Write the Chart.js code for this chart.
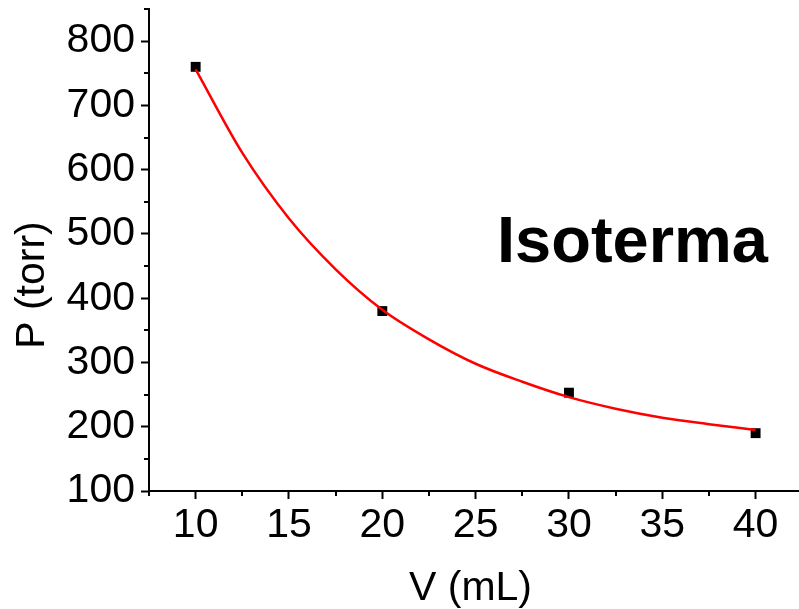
<!DOCTYPE html>
<html lang="en">
  <head>
    <meta charset="UTF-8" />
    <script src="https://cdn.jsdelivr.net/npm/chart.js@4"></script>
    <title>Isoterma</title>
    <style>
      body { margin: 0; background: #fff; }
    </style>
  </head>
  <body>
    <canvas id="myChart" width="799" height="609"></canvas>
    <script>
      // measured points
      const volumes = [10, 20, 30, 40];
      const pressures = [760, 380, 253, 190];

      // fitted curve, every 2.5 mL
      const fitVolumes = [10, 12.5, 15, 17.5, 20, 22.5, 25, 27.5, 30, 32.5, 35, 37.5, 40];
      const fitPressures = [756, 626, 524, 445, 382, 336, 298, 270, 246, 228, 214, 204, 195];

      const xTicks = [10, 15, 20, 25, 30, 35, 40];
      const xMinorTicks = [7.5, 12.5, 17.5, 22.5, 27.5, 32.5, 37.5];
      const yTicks = [100, 200, 300, 400, 500, 600, 700, 800];
      const yMinorTicks = [150, 250, 350, 450, 550, 650, 750, 850];

      const fontFamily = "'Liberation Sans', Arial, sans-serif";
      const font = { family: fontFamily, size: 41, lineHeight: 1 };

      const extras = {
        id: "extras",
        afterDraw(chart) {
          const ctx = chart.ctx;
          const xs = chart.scales.x;
          const ys = chart.scales.y;
          const area = chart.chartArea;
          ctx.save();
          ctx.strokeStyle = "#000";
          ctx.lineWidth = 2;
          ctx.beginPath();
          xMinorTicks.forEach((v) => {
            const px = Math.round(xs.getPixelForValue(v));
            if (px < area.left - 1 || px > area.right + 1) return;
            ctx.moveTo(px, area.bottom);
            ctx.lineTo(px, area.bottom + 5);
          });
          yMinorTicks.forEach((v) => {
            const py = Math.round(ys.getPixelForValue(v));
            if (py < area.top - 1 || py > area.bottom + 1) return;
            ctx.moveTo(area.left, py);
            ctx.lineTo(area.left - 5, py);
          });
          // axis runs on to the edge of the picture
          ctx.moveTo(area.right - 1, area.bottom);
          ctx.lineTo(chart.width, area.bottom);
          ctx.stroke();
          ctx.fillStyle = "#000";
          // y axis title, sits a bit below the middle of the axis
          ctx.font = "41px " + fontFamily;
          ctx.textAlign = "center";
          ctx.textBaseline = "middle";
          ctx.translate(33, 285);
          ctx.rotate(-Math.PI / 2);
          ctx.fillText("P (torr)", 0, 0);
          ctx.setTransform(1, 0, 0, 1, 0, 0);
          // label inside the plot
          ctx.font = "bold 65px " + fontFamily;
          ctx.textAlign = "left";
          ctx.textBaseline = "alphabetic";
          ctx.fillText("Isoterma", 497, 262);
          ctx.restore();
        },
      };

      const ctx = document.getElementById("myChart").getContext("2d");
      const chart = new Chart(ctx, {
        type: "scatter",
        data: {
          datasets: [
            {
              label: "ajuste",
              data: fitVolumes.map((v, i) => ({ x: v, y: fitPressures[i] })),
              showLine: true,
              borderColor: "#ff0000",
              borderWidth: 2.5,
              pointRadius: 0,
              cubicInterpolationMode: "monotone",
              clip: false,
            },
            {
              label: "P",
              data: volumes.map((v, i) => ({ x: v, y: pressures[i] })),
              pointStyle: "rect",
              pointRadius: 7,
              backgroundColor: "#000",
              borderWidth: 0,
              clip: false,
            },
          ],
        },
        options: {
          responsive: false,
          animation: false,
          layout: { padding: { top: 9, left: 0, right: 0, bottom: 0 } },
          plugins: {
            legend: { display: false },
            tooltip: { enabled: false },
          },
          scales: {
            x: {
              type: "linear",
              min: 7.5,
              max: 41.95,
              afterBuildTicks: (scale) => {
                scale.ticks = xTicks.map((v) => ({ value: v }));
              },
              afterFit: (scale) => {
                scale.height = 118;
                scale.paddingLeft = 0;
                scale.paddingRight = 0;
              },
              border: { color: "#000", width: 2 },
              grid: {
                drawOnChartArea: false,
                tickLength: 8,
                tickWidth: 2,
                tickColor: "#000",
              },
              ticks: { color: "#000", font: font, padding: 6, maxRotation: 0 },
              title: {
                display: true,
                text: "V (mL)",
                color: "#000",
                font: font,
                padding: { top: 2, bottom: 0 },
              },
            },
            y: {
              type: "linear",
              min: 100,
              max: 850,
              afterBuildTicks: (scale) => {
                scale.ticks = yTicks.map((v) => ({ value: v }));
              },
              afterFit: (scale) => {
                scale.width = 149;
                scale.paddingTop = 0;
                scale.paddingBottom = 0;
              },
              border: { color: "#000", width: 2 },
              grid: {
                drawOnChartArea: false,
                tickLength: 8,
                tickWidth: 2,
                tickColor: "#000",
              },
              ticks: { color: "#000", font: font, padding: 6 },
            },
          },
        },
        plugins: [extras],
      });
    </script>
  </body>
</html>
